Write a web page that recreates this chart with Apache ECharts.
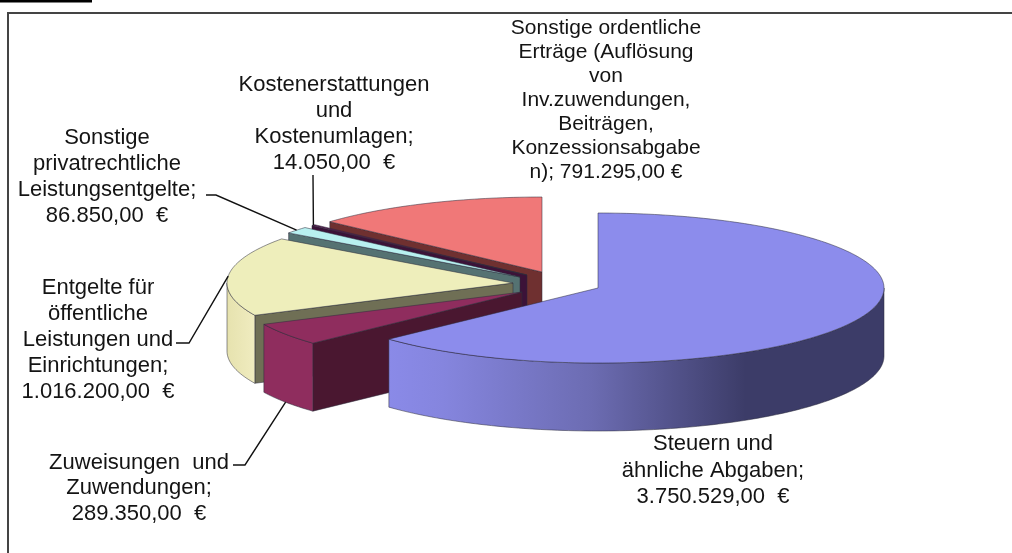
<!DOCTYPE html>
<html>
<head>
<meta charset="utf-8">
<title>Erträge</title>
<style>
  html, body { margin: 0; padding: 0; background: #fff; }
  #chart { width: 1012px; height: 553px; }
</style>
<script src="https://cdn.jsdelivr.net/npm/echarts@6/dist/echarts.min.js"></script>
</head>
<body>
<div id="chart"></div>
<script>
// chart data
const categories = [
  'Steuern und\nähnliche Abgaben',
  'Zuweisungen  und\nZuwendungen',
  'Entgelte für\nöffentliche\nLeistungen und\nEinrichtungen',
  'Sonstige\nprivatrechtliche\nLeistungsentgelte',
  'Kostenerstattungen\nund\nKostenumlagen',
  'Sonstige ordentliche\nErträge (Auflösung\nvon\nInv.zuwendungen,\nBeiträgen,\nKonzessionsabgabe\nn)'
];
const values = [3750529, 289350, 1016200, 86850, 14050, 791295];

// draw order is back to front, values stay in clockwise order
const drawOrder = [5, 4, 3, 2, 1, 0];

const RX = 286, RY = 75, DEPTH = 68;
const FONT = '"Liberation Sans", Arial, sans-serif';

// look of each slice: where the exploded apex sits, colours, label box
const slices = [
  { cx: 598, cy: 288, top: '#8c8cec', edge: '#8c8cec',
    wall: [[0, '#8a8ae8'], [0.11, '#8585de'], [0.41, '#6c6cb2'], [0.72, '#3c3c68'], [1, '#3c3c68']],
    label: { x: 713, y: 431, lh: 26.5, size: 22 } },
  { cx: 522, cy: 292, top: '#8f2d5e', edge: '#4a1730',
    wall: [[0, '#8f2d5e'], [1, '#8f2d5e']],
    label: { x: 139, y: 450, lh: 25.5, size: 22 },
    leader: { from: [233, 465], knee: [245, 465], bottom: true } },
  { cx: 513, cy: 283, top: '#eeeebb', edge: '#6f6f55',
    wall: [[0, '#e6e2ae'], [1, '#f0ecc0']],
    label: { x: 98, y: 275, lh: 26, size: 22 },
    leader: { from: [176, 343], knee: [189, 343] } },
  { cx: 520, cy: 277, top: '#b8f0f0', edge: '#557272',
    wall: [[0, '#b8f0f0'], [1, '#b8f0f0']],
    label: { x: 107, y: 125, lh: 26, size: 22 },
    leader: { from: [206, 195], knee: [216, 195] } },
  { cx: 527, cy: 275, top: '#5a1a50', edge: '#3c1238',
    wall: [[0, '#5a1a50'], [1, '#5a1a50']],
    label: { x: 334, y: 72, lh: 26, size: 22 },
    leader: { from: [313, 175], knee: [313, 176] } },
  { cx: 542, cy: 272, top: '#f07878', edge: '#6f3030',
    wall: [[0, '#f07878'], [1, '#f07878']],
    label: { x: 606, y: 16, lh: 24, size: 21, sep: ' ', gap: ' ' } }
];

const total = values.reduce((a, b) => a + b, 0);

// angles run clockwise from 12 o'clock, in radians
const angles = [];
let sum = 0;
values.forEach(v => {
  const start = sum / total * Math.PI * 2;
  sum += v;
  angles.push([start, sum / total * Math.PI * 2]);
});

function rimPoint(s, a, dy) {
  return [s.cx + RX * Math.sin(a), s.cy - RY * Math.cos(a) + (dy || 0)];
}

function rimPoints(s, a0, a1, dy) {
  const pts = [];
  const n = Math.max(2, Math.ceil((a1 - a0) / 0.02));
  for (let i = 0; i <= n; i++) {
    pts.push(rimPoint(s, a0 + (a1 - a0) * i / n, dy));
  }
  return pts;
}

function euro(v, gap) {
  return v.toLocaleString('de-DE', { minimumFractionDigits: 2, maximumFractionDigits: 2 }) + gap + '€';
}

const outline = { stroke: 'rgba(45,45,60,0.65)', lineWidth: 0.8 };

function renderSlice(params, api) {
  const i = drawOrder[params.dataIndex];
  const s = slices[i];
  const [a0, a1] = angles[i];
  const children = [];

  // cut face along the start edge
  if (Math.sin(a0) < -0.001) {
    const p = rimPoint(s, a0);
    children.push({
      type: 'polygon',
      shape: { points: [[s.cx, s.cy], p, [p[0], p[1] + DEPTH], [s.cx, s.cy + DEPTH]] },
      style: Object.assign({ fill: s.edge }, outline)
    });
  }

  // outer wall, only the half that faces the viewer
  const w0 = Math.max(a0, Math.PI / 2);
  const w1 = Math.min(a1, Math.PI * 1.5);
  if (w1 > w0) {
    const upper = rimPoints(s, w0, w1);
    const lower = rimPoints(s, w0, w1, DEPTH).reverse();
    children.push({
      type: 'polygon',
      shape: { points: upper.concat(lower) },
      style: Object.assign({
        fill: new echarts.graphic.LinearGradient(0, 0, 1, 0,
          s.wall.map(c => ({ offset: c[0], color: c[1] })))
      }, outline)
    });
  }

  // top face
  children.push({
    type: 'polygon',
    shape: { points: [[s.cx, s.cy]].concat(rimPoints(s, a0, a1)) },
    style: Object.assign({ fill: s.top }, outline)
  });

  // leader line ends on the rim at the middle of the slice
  if (s.leader) {
    const end = rimPoint(s, (a0 + a1) / 2, s.leader.bottom ? DEPTH : 0);
    children.push({
      type: 'polyline',
      shape: { points: [s.leader.from, s.leader.knee, end] },
      style: { stroke: '#111', lineWidth: 1.4, fill: null }
    });
  }

  const l = s.label;
  children.push({
    type: 'text',
    style: {
      text: categories[i] + ';' + (l.sep || '\n') + euro(values[i], l.gap || '  '),
      x: l.x, y: l.y,
      align: 'center', verticalAlign: 'top',
      lineHeight: l.lh,
      font: l.size + 'px ' + FONT,
      fill: '#141414'
    }
  });

  return { type: 'group', children };
}

const chart = echarts.init(document.getElementById('chart'));
chart.setOption({
  animation: false,
  backgroundColor: '#fff',
  graphic: [
    { type: 'rect', shape: { x: 0, y: 0, width: 92, height: 2.5 }, style: { fill: '#000' } },
    { type: 'polyline', shape: { points: [[8, 553], [8, 13], [1012, 13]] },
      style: { stroke: '#444', lineWidth: 2, fill: null } }
  ],
  series: [{
    type: 'custom',
    coordinateSystem: 'none',
    clip: false,
    silent: true,
    renderItem: renderSlice,
    data: drawOrder.map(i => values[i])
  }]
});
</script>
</body>
</html>
